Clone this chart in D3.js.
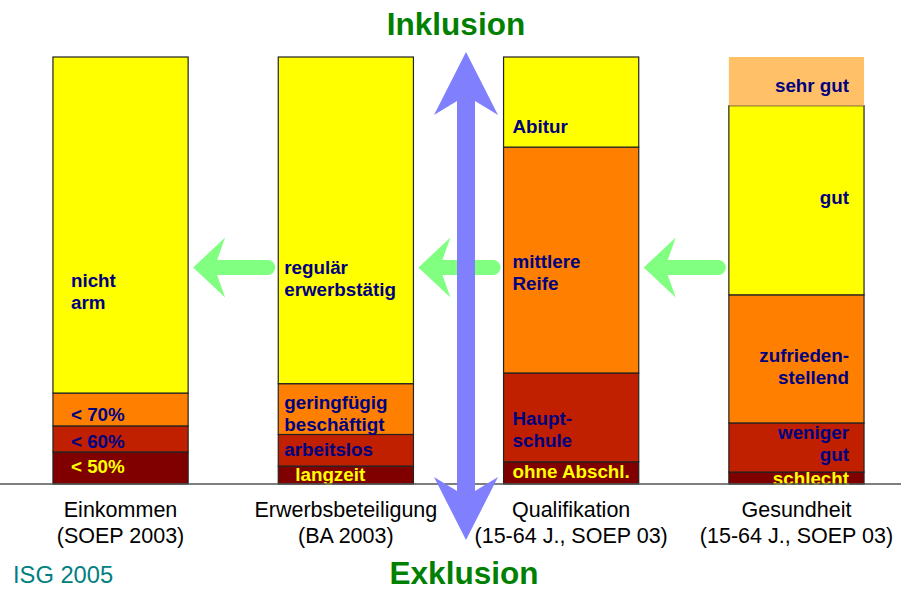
<!DOCTYPE html>
<html>
<head>
<meta charset="utf-8">
<script src="https://cdn.jsdelivr.net/npm/d3@7"></script>
<style>
  html, body { margin: 0; padding: 0; background: #fff; }
  svg { display: block; }
  text { font-family: "Liberation Sans", Arial, sans-serif; }
</style>
</head>
<body>
<script>
// ---------- DATA ----------
const categories = ["Einkommen", "Erwerbsbeteiligung", "Qualifikation", "Gesundheit"];
const sources = ["(SOEP 2003)", "(BA 2003)", "(15-64 J., SOEP 03)", "(15-64 J., SOEP 03)"];

// segments listed bottom -> top, values in percent
const incomeLabels = ["< 50%", "< 60%", "< 70%", "nicht|arm"];
const incomeValues = [7.5, 6.1, 7.7, 78.7];

const employmentLabels = ["langzeit", "arbeitslos", "geringfügig|beschäftigt", "regulär|erwerbstätig"];
const employmentValues = [4.2, 7.4, 11.9, 76.5];

const qualificationLabels = ["ohne Abschl.", "Haupt-|schule", "mittlere|Reife", "Abitur"];
const qualificationValues = [5.2, 20.8, 52.9, 21.1];

const healthLabels = ["schlecht", "weniger|gut", "zufrieden-|stellend", "gut", "sehr gut"];
const healthValues = [2.8, 11.5, 30.0, 44.3, 11.4];

const titleTop = "Inklusion";
const titleBottom = "Exklusion";
const credit = "ISG 2005";

// ---------- STYLE ----------
const W = 901, H = 589;
const levelColors = ["#800000", "#C02000", "#FF8000", "#FFFF00", "#FFC068"];
const navy = "#000080", yellowText = "#FFFF00";

// label placement per bar: anchor, x offset, y offset (from segment top) of first line
const labelLayout = [
  { anchor: "start", dx: 18, dy: [21, 22, 28, 230] },
  { anchor: "start", dx: 6, dxs: [17, 6, 6, 6], dy: [15, 22, 25, 217] },
  { anchor: "start", dx: 9, dy: [16, 52, 121, 76] },
  { anchor: "end", dx: -15, dy: [13, 16, 67, 98, 35] }
];

const bars = [
  { labels: incomeLabels, values: incomeValues },
  { labels: employmentLabels, values: employmentValues },
  { labels: qualificationLabels, values: qualificationValues },
  { labels: healthLabels, values: healthValues }
];

const svg = d3.select("body").append("svg").attr("width", W).attr("height", H);

const x = d3.scaleBand().domain(categories).range([7.9, 909.1]).paddingInner(0.4).paddingOuter(0.2);
const y = d3.scaleLinear().domain([0, 100]).range([484, 57]);

// ---------- BARS ----------
bars.forEach((b, bi) => {
  const cat = categories[bi];
  let cum = 0;
  const segs = b.values.map((v, i) => {
    const s = { y0: cum, y1: cum + v, label: b.labels[i], level: i, idx: i };
    cum += v;
    return s;
  });
  const g = svg.append("g");
  g.selectAll("rect").data(segs).join("rect")
    .attr("x", x(cat))
    .attr("width", x.bandwidth())
    .attr("y", d => y(d.y1))
    .attr("height", d => y(d.y0) - y(d.y1))
    .attr("fill", d => levelColors[d.level])
    .attr("stroke", d => d.level === 4 ? "none" : "#222")
    .attr("stroke-width", 1.2);

  const lay = labelLayout[bi];
  segs.forEach(d => {
    const dx = lay.dxs ? lay.dxs[d.idx] : lay.dx;
    const tx = lay.anchor === "start" ? x(cat) + dx : x(cat) + x.bandwidth() + dx;
    const ty = y(d.y1) + lay.dy[d.idx];
    const t = g.append("text")
      .attr("x", tx).attr("y", ty)
      .attr("text-anchor", lay.anchor)
      .attr("font-size", 18.8).attr("font-weight", "bold")
      .attr("fill", d.level === 0 ? yellowText : navy);
    d.label.split("|").forEach((line, li) => {
      t.append("tspan").attr("x", tx).attr("dy", li === 0 ? 0 : 22).text(line);
    });
  });
});

// ---------- AXIS LINE ----------
svg.append("line").attr("x1", 0).attr("x2", W).attr("y1", y(0)).attr("y2", y(0))
  .attr("stroke", "#555").attr("stroke-width", 1.5);

// ---------- CATEGORY LABELS ----------
categories.forEach((c, i) => {
  const cx = x(c) + x.bandwidth() / 2;
  const t = svg.append("text").attr("x", cx).attr("y", 517)
    .attr("text-anchor", "middle").attr("font-size", 21.5).attr("fill", "#000");
  t.append("tspan").attr("x", cx).text(c);
  t.append("tspan").attr("x", cx).attr("dy", 26).text(sources[i]);
});

// ---------- HORIZONTAL ARROWS ----------
function hArrow(tip, end, cy) {
  const p = d3.path();
  const hw = 7.5;
  p.moveTo(tip, cy);
  p.lineTo(tip + 32, cy - 30);
  p.lineTo(tip + 24, cy - hw);
  p.lineTo(end - hw, cy - hw);
  p.arc(end - hw, cy, hw, -Math.PI / 2, Math.PI / 2, false);
  p.lineTo(tip + 24, cy + hw);
  p.lineTo(tip + 32, cy + 30);
  p.closePath();
  return p.toString();
}
for (let i = 0; i < categories.length - 1; i++) {
  const tip = x(categories[i]) + x.bandwidth() + 5;
  const end = x(categories[i + 1]) - 3;
  svg.append("path").attr("d", hArrow(tip, end, 267.5)).attr("fill", "#80FF80");
}

// ---------- VERTICAL ARROW ----------
{
  const cx = 466, top = y(100) - 5, bot = y(0) + 56, hw = 9;
  const p = d3.path();
  p.moveTo(cx, top);
  p.lineTo(cx + 32, top + 63);
  p.lineTo(cx + hw, top + 49);
  p.lineTo(cx + hw, bot - 49);
  p.lineTo(cx + 32, bot - 63);
  p.lineTo(cx, bot);
  p.lineTo(cx - 32, bot - 63);
  p.lineTo(cx - hw, bot - 49);
  p.lineTo(cx - hw, top + 49);
  p.lineTo(cx - 32, top + 63);
  p.closePath();
  svg.append("path").attr("d", p.toString()).attr("fill", "#8080FF");
}

// ---------- TITLES ----------
svg.append("text").attr("x", 456).attr("y", 35).attr("text-anchor", "middle")
  .attr("font-size", 31.5).attr("font-weight", "bold").attr("fill", "#008000").text(titleTop);
svg.append("text").attr("x", 464).attr("y", 584).attr("text-anchor", "middle")
  .attr("font-size", 31.5).attr("font-weight", "bold").attr("fill", "#008000").text(titleBottom);
svg.append("text").attr("x", 13).attr("y", 583)
  .attr("font-size", 23.7).attr("fill", "#008080").text(credit);
</script>
</body>
</html>
